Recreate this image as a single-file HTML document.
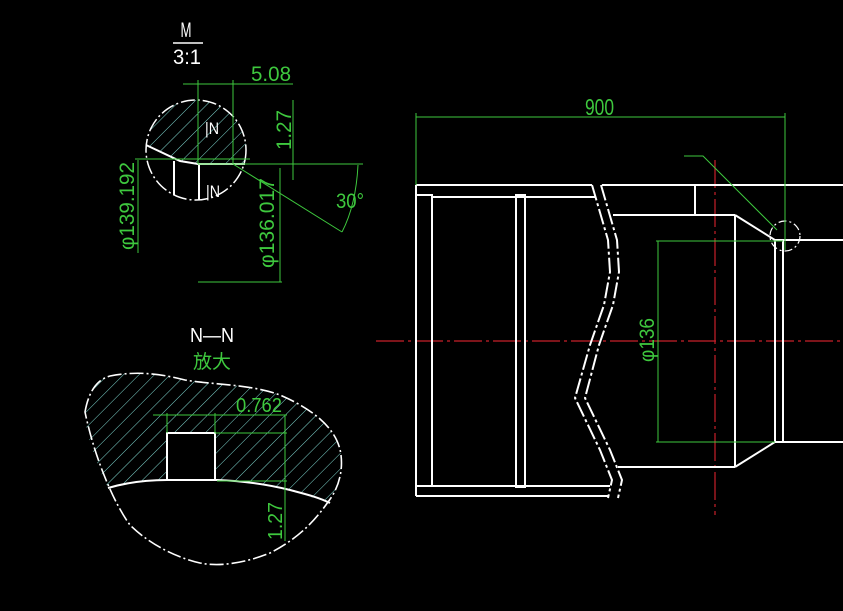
<!DOCTYPE html>
<html><head><meta charset="utf-8"><style>
html,body{margin:0;padding:0;background:#000;}
svg{display:block;}
text{font-family:"Liberation Sans","Noto Sans CJK SC",sans-serif;}
</style></head><body>
<svg width="843" height="611" viewBox="0 0 843 611" xmlns="http://www.w3.org/2000/svg">
<defs>
<pattern id="h" width="11" height="11" patternUnits="userSpaceOnUse" patternTransform="rotate(45)">
<line x1="0" y1="0" x2="0" y2="11" stroke="#7fd8d0" stroke-width="1"/>
</pattern>
<clipPath id="c1"><circle cx="196" cy="150" r="50"/></clipPath>
</defs>
<rect width="843" height="611" fill="#000"/>

<!-- ===== Top-left detail M ===== -->
<text x="186" y="37" fill="#fff" font-size="21" text-anchor="middle" textLength="11" lengthAdjust="spacingAndGlyphs">M</text>
<line x1="173" y1="43" x2="203" y2="43" stroke="#fff" stroke-width="1.5"/>
<text x="187" y="64" fill="#fff" font-size="21" text-anchor="middle" textLength="28" lengthAdjust="spacingAndGlyphs">3:1</text>
<path d="M146,145 L180,161 L198,164 L246,164 L246,100 L146,100 Z" fill="url(#h)" clip-path="url(#c1)"/>
<circle cx="196" cy="150" r="50" fill="none" stroke="#fff" stroke-width="1.5" stroke-dasharray="14,3,2,3"/>
<polyline points="146,145 180,161 198,164 245,164" fill="none" stroke="#fff" stroke-width="2"/>
<line x1="174" y1="161" x2="174" y2="195" stroke="#fff" stroke-width="2"/>
<line x1="199" y1="164" x2="199" y2="200" stroke="#fff" stroke-width="2"/>
<text x="205" y="134" fill="#fff" font-size="17" textLength="14" lengthAdjust="spacingAndGlyphs">|N</text>
<text x="206" y="197" fill="#fff" font-size="17" textLength="14" lengthAdjust="spacingAndGlyphs">|N</text>
<g stroke="#3ec83e" stroke-width="1" fill="none">
<line x1="183" y1="84" x2="293" y2="84"/>
<line x1="198" y1="80" x2="198" y2="164"/>
<line x1="233" y1="80" x2="233" y2="164"/>
<line x1="293" y1="100" x2="293" y2="180"/>
<line x1="135" y1="159" x2="250" y2="159"/>
<line x1="198" y1="164" x2="363" y2="164"/>
<line x1="138" y1="160" x2="138" y2="253"/>
<line x1="280" y1="168" x2="280" y2="282"/>
<line x1="198" y1="282" x2="282" y2="282"/>
<line x1="233" y1="164" x2="342" y2="232"/>
<path d="M358,165 Q356,205 342,232"/>
</g>
<g fill="#3ec83e" font-size="21">
<text x="251" y="81" textLength="40" lengthAdjust="spacingAndGlyphs">5.08</text>
<text transform="translate(291,150) rotate(-90)" textLength="40" lengthAdjust="spacingAndGlyphs">1.27</text>
<text transform="translate(134,250) rotate(-90)" textLength="88" lengthAdjust="spacingAndGlyphs">φ139.192</text>
<text transform="translate(274,268) rotate(-90)" textLength="90" lengthAdjust="spacingAndGlyphs">φ136.017</text>
<text x="336" y="208" textLength="28" lengthAdjust="spacingAndGlyphs">30°</text>
</g>

<!-- ===== Bottom-left detail N-N ===== -->
<text x="212" y="342" fill="#fff" font-size="20" text-anchor="middle" textLength="44" lengthAdjust="spacingAndGlyphs">N—N</text>
<text x="212" y="368" fill="#3ec83e" font-size="19" text-anchor="middle">放大</text>
<path d="M85,412 C88,395 95,380 110,376 C140,370 165,375 185,380 C215,385 250,384 280,395 C315,410 338,430 341,455 C344,480 332,497 328,502 C315,500 300,492 283,488 C250,481 230,480 217,480 L167,480 C140,481 120,484 108,488 C95,460 84,430 85,412 Z" fill="url(#h)"/>
<rect x="167" y="433" width="48" height="47" fill="#000"/>
<path d="M85,412 C88,395 95,380 110,376 C140,370 165,375 185,380 C215,385 250,384 280,395 C315,410 338,430 341,455 C344,480 332,497 328,502 C312,525 295,540 270,553 C245,563 220,567 200,563 C170,556 145,540 130,525 C115,505 95,460 85,412 Z" fill="none" stroke="#fff" stroke-width="1.6" stroke-dasharray="14,3,2,3"/>
<path d="M108,488 C125,483 145,480 167,480 L217,480 C245,481 270,485 290,490 C305,494 318,497 330,503" fill="none" stroke="#fff" stroke-width="2"/>
<rect x="167" y="433" width="48" height="47" fill="none" stroke="#fff" stroke-width="2"/>
<g stroke="#3ec83e" stroke-width="1" fill="none">
<line x1="153" y1="415" x2="287" y2="415"/>
<line x1="167" y1="413" x2="167" y2="433"/>
<line x1="215" y1="413" x2="215" y2="433"/>
<line x1="215" y1="433" x2="287" y2="433"/>
<line x1="217" y1="481" x2="287" y2="481"/>
<line x1="285" y1="415" x2="285" y2="541"/>
</g>
<text x="236" y="412" fill="#3ec83e" font-size="20" textLength="46" lengthAdjust="spacingAndGlyphs">0.762</text>
<text transform="translate(282,540) rotate(-90)" fill="#3ec83e" font-size="20" textLength="38" lengthAdjust="spacingAndGlyphs">1.27</text>

<!-- ===== Main view ===== -->
<line x1="376" y1="341" x2="843" y2="341" stroke="#c8202a" stroke-width="1.2" stroke-dasharray="28,4,3,4"/>
<line x1="715" y1="160" x2="715" y2="515" stroke="#c8202a" stroke-width="1.2" stroke-dasharray="28,4,3,4"/>

<g stroke="#fff" stroke-width="2" fill="none">
<line x1="416" y1="185" x2="592" y2="185"/>
<line x1="602" y1="185" x2="843" y2="185"/>
<line x1="416" y1="185" x2="416" y2="496"/>
<line x1="416" y1="496" x2="608" y2="496"/>
<line x1="432" y1="197" x2="596" y2="197"/>
<line x1="432" y1="486" x2="610" y2="486"/>
<rect x="416" y="195" width="16" height="291"/>
<rect x="516" y="195" width="9" height="292"/>
<line x1="613" y1="215" x2="735" y2="215"/>
<line x1="695" y1="185" x2="695" y2="215"/>
<line x1="735" y1="215" x2="735" y2="467"/>
<line x1="618" y1="467" x2="735" y2="467"/>
<polyline points="735,215 775,240 775,442 735,467"/>
<line x1="783" y1="240" x2="783" y2="442"/>
<line x1="775" y1="240" x2="843" y2="240"/>
<line x1="775" y1="442" x2="843" y2="442"/>
</g>
<g stroke="#fff" stroke-width="2" fill="none" stroke-dasharray="16,3,3,3">
<polyline points="592,185 608,240 610,272 604,305 590,345 575,398 600,450 612,480 608,498"/>
<polyline points="601,185 617,240 619,272 613,305 599,345 585,398 610,450 622,480 618,498"/>
</g>
<circle cx="785" cy="236" r="15" fill="none" stroke="#fff" stroke-width="1.2" stroke-dasharray="8,3,2,3"/>

<g stroke="#3ec83e" stroke-width="1" fill="none">
<line x1="416" y1="117" x2="785" y2="117"/>
<line x1="416" y1="113" x2="416" y2="185"/>
<line x1="785" y1="113" x2="785" y2="250"/>
<polyline points="684,156 703,156 777,230"/>
<line x1="658" y1="241" x2="658" y2="442"/>
<line x1="656" y1="241" x2="783" y2="241"/>
<line x1="656" y1="442" x2="775" y2="442"/>
</g>
<text x="585" y="115" fill="#3ec83e" font-size="23" textLength="29" lengthAdjust="spacingAndGlyphs">900</text>
<text transform="translate(654,362) rotate(-90)" fill="#3ec83e" font-size="21" textLength="44" lengthAdjust="spacingAndGlyphs">φ136</text>
</svg>
</body></html>
